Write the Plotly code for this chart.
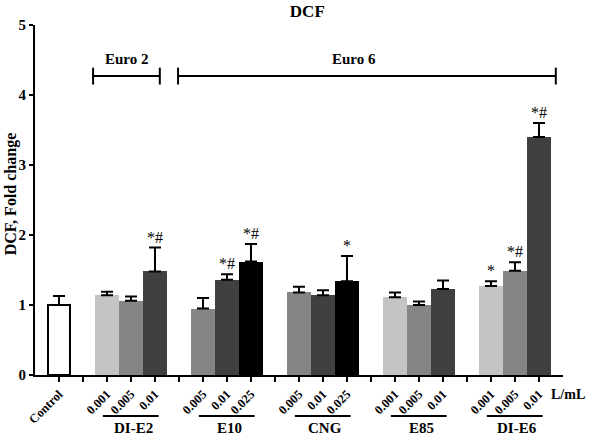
import plotly.graph_objects as go

# ---- data ----
groups = ["Control", "DI-E2", "E10", "CNG", "E85", "DI-E6"]
doses = [
    ["Control"],
    ["0.001", "0.005", "0.01"],
    ["0.005", "0.01", "0.025"],
    ["0.005", "0.01", "0.025"],
    ["0.001", "0.005", "0.01"],
    ["0.001", "0.005", "0.01"],
]
means = [
    [1.00],
    [1.14, 1.06, 1.48],
    [0.95, 1.36, 1.62],
    [1.18, 1.14, 1.34],
    [1.11, 1.00, 1.23],
    [1.27, 1.49, 3.40],
]
sems = [
    [0.13],
    [0.05, 0.06, 0.34],
    [0.15, 0.08, 0.25],
    [0.08, 0.07, 0.36],
    [0.07, 0.05, 0.12],
    [0.07, 0.12, 0.20],
]
marks = [
    [""],
    ["", "", "*#"],
    ["", "*#", "*#"],
    ["", "", "*"],
    ["", "", ""],
    ["*", "*#", "*#"],
]
euro_labels = ["Euro 2", "Euro 6"]

LIGHT, MID, DARK, BLACK = "#c4c4c4", "#858585", "#404040", "#000000"
shade_sets = {
    "Control": ["#ffffff"],
    "DI-E2": [LIGHT, MID, DARK],
    "E10": [MID, DARK, BLACK],
    "CNG": [MID, DARK, BLACK],
    "E85": [LIGHT, MID, DARK],
    "DI-E6": [LIGHT, MID, DARK],
}

# build positions: one empty slot between groups
xs, ys, es, cols, lw, wd, txt = [], [], [], [], [], [], []
tickvals, ticktext = [], []
group_span = {}
slot = 0
for gi, g in enumerate(groups):
    start = slot
    for di, d in enumerate(doses[gi]):
        xs.append(slot)
        ys.append(means[gi][di])
        es.append(sems[gi][di])
        cols.append(shade_sets[g][di])
        lw.append(2 if g == "Control" else 0)
        wd.append(0.92 if g == "Control" else 1.0)
        txt.append(marks[gi][di])
        tickvals.append(slot)
        ticktext.append(d)
        slot += 1
    group_span[g] = (start, slot - 1)
    if gi < len(groups) - 1:
        tickvals.append(slot)
        ticktext.append("")
        slot += 1

SERIF = "Liberation Serif, Times New Roman, serif"

fig = go.Figure()
fig.add_trace(go.Bar(
    x=xs, y=ys, width=wd,
    marker=dict(color=cols, line=dict(color="black", width=lw)),
    error_y=dict(type="data", symmetric=False, array=es,
                 arrayminus=[0] * len(es), color="black", thickness=2, width=6),
    showlegend=False, hoverinfo="skip",
))

annotations = []
for x, y, e, t in zip(xs, ys, es, txt):
    if t:
        annotations.append(dict(x=x, y=y + e, text=t, showarrow=False,
                                yanchor="bottom", yshift=0,
                                font=dict(family=SERIF, size=16, color="black")))

shapes = []
# Euro brackets
bracket_y = 4.27
for (x0, x1), lab in zip([(1.42, 4.2), (4.96, 20.7)], euro_labels):
    shapes.append(dict(type="line", x0=x0, x1=x1, y0=bracket_y, y1=bracket_y,
                       line=dict(color="black", width=2)))
    for xe in (x0, x1):
        shapes.append(dict(type="line", x0=xe, x1=xe, y0=bracket_y - 0.12,
                           y1=bracket_y + 0.12, line=dict(color="black", width=2)))
    annotations.append(dict(x=(x0 + x1) / 2 if lab == "Euro 2" else 12.3,
                            y=bracket_y + 0.1, text=f"<b>{lab}</b>",
                            showarrow=False, yanchor="bottom",
                            font=dict(family=SERIF, size=15, color="black")))

# group underlines + names
for g in groups[1:]:
    a, b = group_span[g]
    shapes.append(dict(type="line", xref="x", yref="paper", x0=a - 0.17, x1=b + 0.15,
                       y0=-0.117, y1=-0.117, line=dict(color="black", width=2)))
    annotations.append(dict(x=(a + b) / 2 + 0.1, xref="x", yref="paper", y=-0.151,
                            text=f"<b>{g}</b>", showarrow=False, yanchor="middle",
                            font=dict(family=SERIF, size=15, color="black")))

annotations.append(dict(x=1.045, xref="paper", xanchor="right",
                        y=-0.057, yref="paper", yanchor="middle",
                        text="<b>L/mL</b>", showarrow=False,
                        font=dict(family=SERIF, size=14, color="black")))

# y-axis title as rotated annotation
annotations.append(dict(x=-0.045, xref="paper", xanchor="center",
                        y=0.517, yref="paper", yanchor="middle", textangle=-90,
                        text="<b>DCF, Fold change</b>", showarrow=False,
                        font=dict(family=SERIF, size=16, color="black")))

fig.update_layout(
    width=591, height=436,
    margin=dict(l=35, r=28, t=25, b=61, autoexpand=False),
    paper_bgcolor="white", plot_bgcolor="white",
    bargap=0,
    title=dict(text="<b>DCF</b>", x=0.52, xanchor="center", y=0.988, yanchor="top",
               font=dict(family=SERIF, size=17, color="black"), automargin=False),
    font=dict(family=SERIF, color="black"),
    xaxis=dict(range=[-1, 21], tickmode="array", tickvals=tickvals,
               ticktext=[f"<b>{t}</b>" if t else "" for t in ticktext],
               tickangle=-45, ticks="outside", ticklen=5, tickwidth=2,
               tickcolor="black", showline=True, linewidth=2, linecolor="black",
               showgrid=False, zeroline=False, automargin=False,
               tickfont=dict(family=SERIF, size=12.5, color="black")),
    yaxis=dict(range=[0, 5], tickvals=[0, 1, 2, 3, 4, 5],
               ticktext=[f"<b>{v}</b>" for v in range(6)],
               ticks="outside", ticklen=4, tickwidth=2, tickcolor="black",
               showline=True, linewidth=2, linecolor="black",
               showgrid=False, zeroline=False, automargin=False,
               tickfont=dict(family=SERIF, size=15, color="black")),
    shapes=shapes, annotations=annotations,
)

fig.write_html("out.html", config={"displayModeBar": False},
               post_script="document.body.style.margin='0';document.body.style.padding='0';")
